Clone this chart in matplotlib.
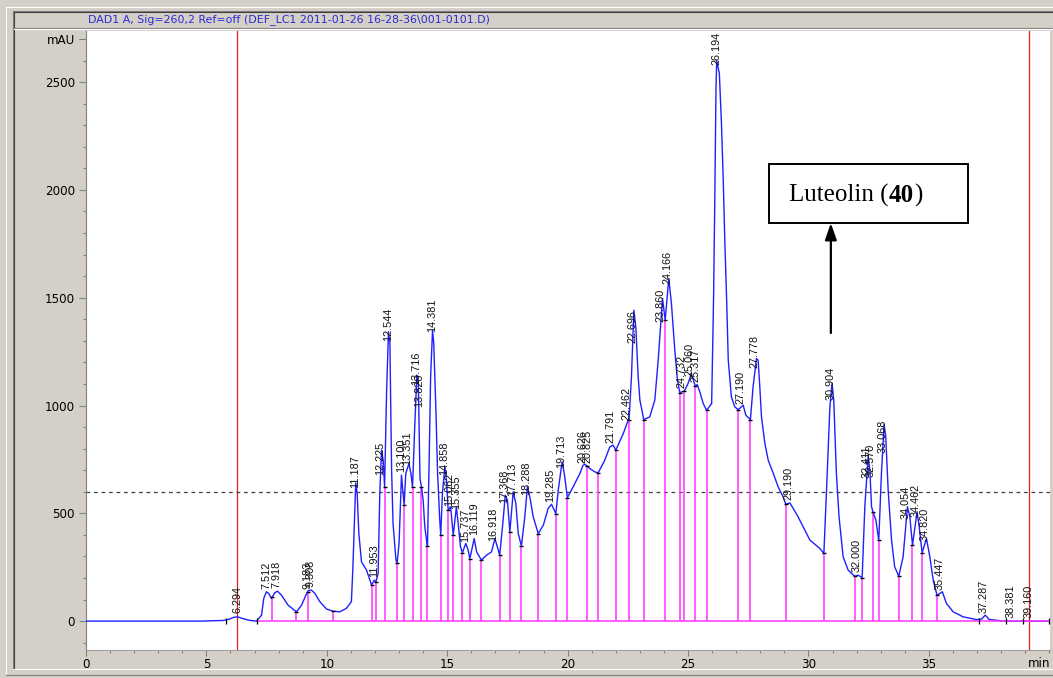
import numpy as np
import matplotlib
matplotlib.use("Agg")
import matplotlib.pyplot as plt
from matplotlib.lines import Line2D
from matplotlib.patches import Rectangle

# ---------------- data ----------------
trace_t = [0.0, 4.73, 5.70, 5.95, 6.11, 6.28, 6.45, 6.73, 6.90, 7.08, 7.29, 7.38, 7.49, 7.59, 7.70,
           7.84, 7.95, 8.12, 8.39, 8.74, 8.95, 9.13, 9.23, 9.36, 9.50, 9.71, 9.99, 10.26, 10.54,
           10.81, 11.02, 11.08, 11.16, 11.20, 11.26, 11.33, 11.44, 11.65, 11.86, 11.97, 12.04,
           12.13, 12.20, 12.27, 12.34, 12.40, 12.48, 12.56, 12.62, 12.69, 12.75, 12.87, 12.92,
           13.00, 13.10, 13.17, 13.21, 13.28, 13.41, 13.49, 13.56, 13.65, 13.74, 13.80, 13.87,
           13.93, 14.00, 14.07, 14.14, 14.18, 14.25, 14.31, 14.39, 14.44, 14.53, 14.60, 14.69,
           14.73, 14.80, 14.90, 14.97, 15.04, 15.14, 15.25, 15.38, 15.47, 15.55, 15.63, 15.77,
           15.87, 15.94, 16.12, 16.22, 16.42, 16.63, 16.84, 16.98, 17.18, 17.32, 17.41, 17.50,
           17.60, 17.74, 17.85, 17.95, 18.08, 18.22, 18.33, 18.43, 18.57, 18.78, 18.99, 19.19,
           19.33, 19.51, 19.61, 19.77, 19.86, 19.99, 20.23, 20.51, 20.64, 20.72, 20.81, 20.92,
           21.13, 21.27, 21.54, 21.75, 21.89, 22.00, 22.31, 22.51, 22.55, 22.65, 22.75, 22.83,
           22.93, 23.00, 23.16, 23.41, 23.62, 23.76, 23.94, 24.05, 24.20, 24.31, 24.45, 24.56,
           24.66, 24.73, 24.84, 25.00, 25.14, 25.30, 25.38, 25.49, 25.63, 25.77, 25.98, 26.04,
           26.06, 26.11, 26.16, 26.19, 26.30, 26.39, 26.46, 26.53, 26.60, 26.67, 26.80, 26.94,
           27.08, 27.29, 27.40, 27.59, 27.70, 27.84, 27.91, 27.98, 28.05, 28.19, 28.33, 28.54,
           28.74, 28.95, 29.06, 29.23, 29.37, 29.57, 29.64, 30.06, 30.47, 30.64, 30.75, 30.89,
           30.98, 31.05, 31.16, 31.27, 31.44, 31.65, 31.92, 32.06, 32.23, 32.34, 32.48, 32.55,
           32.62, 32.68, 32.80, 32.92, 33.03, 33.14, 33.21, 33.31, 33.45, 33.58, 33.75, 33.93,
           34.11, 34.21, 34.32, 34.51, 34.60, 34.72, 34.90, 35.04, 35.18, 35.34, 35.56, 35.73,
           36.01, 36.42, 36.98, 37.20, 37.34, 37.50, 37.95, 38.50, 40.03]
trace_mau = [0, 0, 3, 9, 17, 20, 14, 5, 2, 0, 28, 105, 136, 128, 105,
             131, 139, 120, 74, 43, 74, 120, 141, 144, 129, 90, 56, 46, 43,
             59, 90, 240, 514, 641, 592, 406, 275, 236, 167, 190, 182,
             221, 592, 793, 746, 623, 1056, 1342, 1287, 700, 453, 283, 270,
             360, 677, 592, 538, 685, 731, 685, 623, 901, 1141, 1102, 660,
             623, 560, 437, 375, 348, 746, 1133, 1349, 1288, 978, 685, 468,
             399, 592, 715, 654, 514, 530, 399, 530, 437, 345, 317, 360,
             329, 290, 383, 321, 283, 306, 321, 383, 306, 468, 584, 561,
             414, 600, 545, 406, 348, 483, 623, 576, 484, 406, 445, 522,
             542, 499, 607, 739, 685, 573, 623, 685, 723, 727, 719, 708,
             692, 688, 746, 808, 816, 793, 870, 930, 932, 1133, 1442, 1365,
             1133, 1025, 935, 947, 1025, 1210, 1496, 1396, 1589, 1473, 1257, 1117,
             1059, 1063, 1066, 1102, 1148, 1090, 1097, 1063, 1009, 978, 1009, 1365,
             1500, 1950, 2470, 2600, 2540, 2300, 2050, 1750, 1500, 1210, 1040, 994,
             981, 1001, 955, 935, 1086, 1218, 1210, 1086, 947, 824, 746, 685,
             623, 576, 542, 548, 522, 484, 468, 376, 337, 314, 607, 994,
             1102, 1025, 685, 484, 298, 236, 208, 213, 202, 530, 765, 700,
             530, 507, 468, 375, 685, 912, 855, 607, 375, 252, 208, 298,
             530, 484, 352, 507, 437, 317, 383, 298, 190, 120, 136, 82,
             43, 20, 7, 10, 28, 8, 2, 0, 0]

peak_labels = ["6.294", "7.512", "7.918", "9.183", "9.308", "11.187", "11.953", "12.225",
               "12.544", "13.100", "13.351", "13.716", "13.820", "14.381", "14.858", "15.062",
               "15.355", "15.737", "16.119", "16.918", "17.368", "17.713", "18.288", "19.285",
               "19.713", "20.626", "20.825", "21.791", "22.462", "22.696", "23.860", "24.166",
               "24.732", "25.060", "25.317", "26.194", "27.190", "27.778", "29.190", "30.904",
               "32.000", "32.411", "32.570", "33.068", "34.054", "34.462", "34.820", "35.447",
               "37.287", "38.381", "39.160"]

drop_t = [7.73, 8.74, 9.20, 10.26, 11.86, 12.04, 12.40, 12.92, 13.21, 13.56, 13.93, 14.18,
          14.73, 15.04, 15.25, 15.63, 15.94, 16.42, 17.18, 17.60, 18.08, 18.78, 19.51, 19.99,
          20.81, 21.27, 22.00, 22.55, 23.16, 24.05, 24.66, 24.84, 25.30, 25.77, 27.08, 27.59,
          29.06, 30.64, 31.92, 32.23, 32.68, 32.92, 33.75, 34.32, 34.72, 35.34]

baseline_ticks = [5.83, 7.08, 37.09, 38.20, 38.90, 40.0]
red_markers = [6.27, 39.17]
threshold = 600
x_ticks = [0, 5, 10, 15, 20, 25, 30, 35]
y_ticks = [0, 500, 1000, 1500, 2000, 2500]
title = "DAD1 A, Sig=260,2 Ref=off (DEF_LC1 2011-01-26 16-28-36\\001-0101.D)"
compound_name = "Luteolin ("
compound_num = "40"
compound_rt = 30.93

# ---------------- figure ----------------
W, H = 1053, 678
fig = plt.figure(figsize=(W / 100, H / 100), dpi=100, facecolor="#d4d0c8")


def fx(x):
    return x / W


def fy(y):
    return 1 - y / H


# window bevels
for (x0, y0, x1, y1, c) in [(6, 7, 1053, 7, "white"), (6, 7, 6, 675, "white"),
                            (6, 675, 1053, 675, "#808080"),
                            (13, 11, 1053, 11, "#808080"), (13, 11, 13, 669, "#808080"),
                            (13, 669, 1053, 669, "white"), (14, 12, 1053, 12, "#404040"),
                            (14, 12, 14, 668, "#404040"),
                            (14, 28, 1053, 28, "#808080"), (14, 29, 1053, 29, "white")]:
    fig.add_artist(Line2D([fx(x0), fx(x1)], [fy(y0), fy(y1)], color=c, lw=0.8,
                          transform=fig.transFigure))

fig.text(fx(88), fy(19.5), title, color="#2a2ad6", fontsize=7.95, ha="left", va="center",
         family="DejaVu Sans")

ax = fig.add_axes([fx(86), fy(650), fx(1050) - fx(86), fy(31) - fy(650)])
ax.set_facecolor("white")
ylim = (-134, 2737)
ax.set_xlim(0, 40.03)
ax.set_ylim(*ylim)

t = np.array(trace_t)
v = np.array(trace_mau)

# markers / threshold
for rx in red_markers:
    ax.axvline(rx, color="#e02020", lw=0.9, zorder=1)
ax.axhline(threshold, color="#404040", lw=0.9, ls=(0, (3, 3)), zorder=1)

# trace
ax.plot(t, v, color="#1f1fff", lw=1.0, zorder=3)

# integration baseline and drop lines
ax.plot([7.08, 40.03], [0, 0], color="#ff33ff", lw=1.1, zorder=4, solid_capstyle="butt")
dt = np.array(drop_t)
dh = np.interp(dt, t, v)
ax.vlines(dt, 0, dh, color="#ff33ff", lw=1.1, zorder=2)
ax.plot(dt, dh, ls="none", marker="_", ms=3.5, mew=1.0, color="black", zorder=5)
ax.plot(baseline_ticks, np.zeros(len(baseline_ticks)), ls="none", marker="|", ms=5,
        mew=0.9, color="black", zorder=5)

# peak labels (kept inside the plot area like the data system does)
label_room = 175  # mAU needed above anchor for a label
for lab in peak_labels:
    rt = float(lab)
    h = min(np.interp(rt, t, v), ylim[1] - label_room)
    ax.annotate(lab, (rt, h), xytext=(0, 2.5), textcoords="offset points", rotation=90,
                ha="center", va="bottom", fontsize=7.8, color="#111111",
                family="Liberation Sans", zorder=6)

# luteolin annotation
ax.add_patch(Rectangle((0.7085, 0.690), 0.2065, 0.095, transform=ax.transAxes,
                       facecolor="white", edgecolor="black", lw=1.4, zorder=7))
t1 = ax.text(0.7295, 0.735, compound_name, transform=ax.transAxes, fontsize=18,
             family="Liberation Serif", ha="left", va="center", zorder=8)
t2 = ax.annotate(compound_num, xy=(1, 0), xycoords=t1, ha="left", va="bottom", fontsize=18,
                 family="Liberation Serif", fontweight="bold", zorder=8)
ax.annotate(")", xy=(1, 0), xycoords=t2, ha="left", va="bottom", fontsize=18,
            family="Liberation Serif", zorder=8)
ax.annotate("", xy=(compound_rt, 1846), xytext=(compound_rt, 1336),
            arrowprops=dict(arrowstyle="-|>,head_length=1.0,head_width=0.35", color="black",
                            lw=1.6, shrinkA=0, shrinkB=0), zorder=8)

# axes styling
for s in ["top", "right"]:
    ax.spines[s].set_visible(False)
ax.spines["left"].set_color("#808080")
ax.spines["bottom"].set_color("#a0a0a0")
ax.set_xticks(x_ticks)
ax.set_xticks(np.arange(0, 41, 1), minor=True)
ax.set_xticklabels([str(x) for x in x_ticks])
ax.set_yticks(y_ticks + [2700])
ax.set_yticklabels([str(y) for y in y_ticks] + ["mAU"])
ax.set_yticks(np.arange(-100, 2701, 100), minor=True)
ax.tick_params(axis="x", which="major", direction="out", length=4, width=0.8, colors="#808080",
               labelcolor="black", labelsize=8.6, pad=2)
ax.tick_params(axis="x", which="minor", direction="out", length=2.5, width=0.8, colors="#808080")
ax.tick_params(axis="y", which="major", direction="out", length=5, width=0.8, colors="#808080",
               labelcolor="black", labelsize=8.6, pad=3)
ax.tick_params(axis="y", which="minor", direction="out", length=2.5, width=0.8, colors="#808080")
for lab in ax.get_xticklabels() + ax.get_yticklabels():
    lab.set_family("DejaVu Sans")
ax.text(1.0, -0.012, "min", transform=ax.transAxes, ha="right", va="top", fontsize=8.6,
        family="DejaVu Sans")

fig.savefig("out.png", dpi=100, facecolor=fig.get_facecolor())
